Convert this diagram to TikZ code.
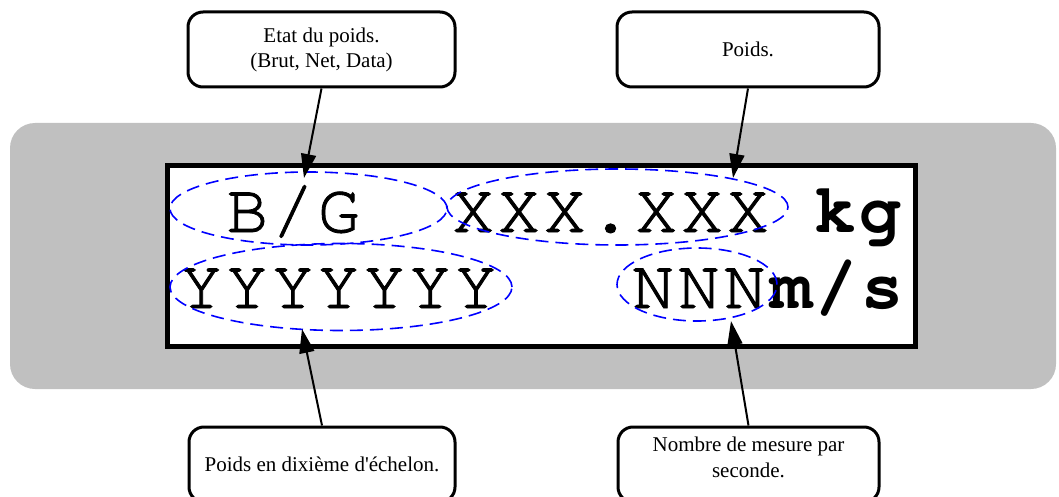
\documentclass[tikz,border=0pt]{standalone}
\usepackage{fontspec}
\newfontfamily\boxfont{Liberation Serif}
\newfontfamily\dispfont[LetterSpace=5.4,FakeBold=1.2]{TeX Gyre Cursor}
\newfontfamily\dispboldfont[LetterSpace=5.4]{TeX Gyre Cursor Bold}
\usetikzlibrary{shapes.geometric,arrows.meta,calc}
\definecolor{bggray}{HTML}{C0C0C0}
\begin{document}
\begin{tikzpicture}[x=1pt,y=-1pt,
  callout/.style={draw=black,line width=3pt,rounded corners=15pt,fill=white,minimum height=75pt,align=center,font=\boxfont\fontsize{21}{25}\selectfont,inner sep=0pt},
  zone/.style={ellipse,draw=blue,line width=1.6pt,dash pattern=on 13pt off 7pt,inner sep=0pt},
  disp/.style={anchor=base west,inner sep=0pt,font=\dispfont\fontsize{70}{70}\selectfont},
  dispb/.style={anchor=base west,inner sep=0pt,font=\dispboldfont\fontsize{70}{70}\selectfont},
  conn/.style={line width=2pt,-{Triangle[length=24pt,width=15pt]}},
]
\useasboundingbox (0,0) rectangle (1059,497);
\clip (0,0) rectangle (1059,497);
% background panel
\fill[bggray,rounded corners=25pt] (10,123) rectangle (1056,389);
% display
\node[draw=black,line width=5pt,fill=white,minimum width=748pt,minimum height=181pt,inner sep=0pt] (screen) at (541.5,256) {};
% display texts
\node[disp] (tbg) at (226,232) {B/G};
\node[disp] (txx) at (452,232) {XXX.XXX};
\node[dispb] (tkg) at (814,232) {kg};
\node[disp] (tyy) at (180,308) {YYYYYYY};
\node[disp] (tnn) at (632,308) {NNN};
\node[dispb] (tms) at (770,308) {m/s};
% zones
\node[zone,minimum width=277pt,minimum height=73pt] (e1) at (308.5,208.5) {};
\node[zone,minimum width=341pt,minimum height=76pt] (e2) at (617.5,207) {};
\node[zone,minimum width=342pt,minimum height=87pt] (e3) at (341,287) {};
\node[zone,minimum width=160pt,minimum height=73pt] (e4) at (697,284.5) {};
% callouts
\node[callout,minimum width=267pt] (b1) at (321.5,49.5) {Etat du poids.\\(Brut, Net, Data)};
\node[callout,minimum width=262pt] (b2) at (748,49.5) {Poids.};
\node[callout,minimum width=266pt] (b3) at (322,464.5) {Poids en dixième d'échelon.};
\node[callout,minimum width=261pt,font=\boxfont\fontsize{21}{26}\selectfont,text depth=14pt] (b4) at (748.5,464.5) {Nombre de mesure par\\seconde.};
% arrow targets
\coordinate (t1) at (304,178);
\coordinate (t2) at (733,178);
\coordinate (t3) at (302,329);
\coordinate (t4) at (731,321);
\draw[conn] (b1.south) -- (t1);
\draw[conn] (b2.south) -- (t2);
\draw[conn] (b3.north) -- (t3);
\draw[conn] (b4.north) -- (t4);
\end{tikzpicture}
\end{document}
